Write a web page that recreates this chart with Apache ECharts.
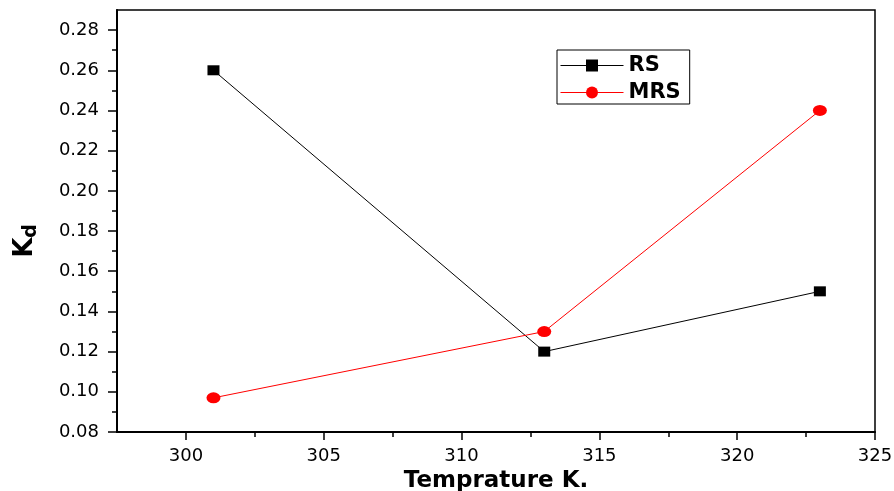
<!DOCTYPE html>
<html>
<head>
<meta charset="utf-8">
<script src="https://cdn.jsdelivr.net/npm/echarts@6/dist/echarts.min.js"></script>
<style>
  html, body { margin: 0; padding: 0; background: #fff; }
  #chart { width: 894px; height: 491px; }
</style>
</head>
<body>
<div id="chart"></div>
<script>
// data
const temps = [301, 313, 323]
const rsValues = [0.26, 0.12, 0.15]
const mrsValues = [0.097, 0.13, 0.24]

// tick labels
const xTicks = [300, 305, 310, 315, 320, 325]
const xMinorTicks = [302.5, 307.5, 312.5, 317.5, 322.5]
const yTicks = [0.08, 0.10, 0.12, 0.14, 0.16, 0.18, 0.20, 0.22, 0.24, 0.26, 0.28]
const yMinorTicks = [0.09, 0.11, 0.13, 0.15, 0.17, 0.19, 0.21, 0.23, 0.25, 0.27]

const font = 'DejaVu Sans, Verdana, sans-serif'
const chart = echarts.init(document.getElementById('chart'))

const xBase = { type: 'value', min: 297.5, max: 325, splitLine: { show: false } }
const yBase = { type: 'value', min: 0.08, max: 0.29, splitLine: { show: false } }

const option = {
  backgroundColor: '#fff',
  animation: false,
  grid: {
    left: 117, right: 19, top: 10, bottom: 59,
    outerBoundsMode: 'none',
    containLabel: false,
    show: true, borderColor: '#000', borderWidth: 1.5
  },
  legend: {
    orient: 'vertical',
    left: 557, top: 50,
    padding: [5, 9, 1, 3],
    borderColor: '#000', borderWidth: 1,
    itemWidth: 63, itemHeight: 15, itemGap: 6,
    lineStyle: { width: 1 },
    textStyle: { fontFamily: font, fontWeight: 'bold', fontSize: 21, color: '#000' },
    data: ['RS', 'MRS']
  },
  xAxis: [
    Object.assign({}, xBase, {
      position: 'bottom',
      name: 'Temprature K.',
      nameLocation: 'middle',
      nameGap: 28,
      nameTextStyle: { fontFamily: font, fontWeight: 'bold', fontSize: 23, color: '#000' },
      axisLine: { lineStyle: { color: '#000', width: 2 } },
      axisTick: { customValues: xTicks, length: 8, lineStyle: { color: '#000', width: 1.5 } },
      axisLabel: { customValues: xTicks, margin: 15, fontFamily: font, fontSize: 18, color: '#000' }
    }),
    Object.assign({}, xBase, {
      position: 'bottom',
      axisLine: { show: false },
      axisTick: { customValues: xMinorTicks, length: 5, lineStyle: { color: '#000', width: 1.5 } },
      axisLabel: { show: false }
    })
  ],
  yAxis: [
    Object.assign({}, yBase, {
      position: 'left',
      name: '{k|K}{d|d}',
      nameLocation: 'middle',
      nameGap: 76,
      nameRotate: 90,
      nameTextStyle: {
        padding: [0, 40, 0, 0],
        rich: {
          k: { fontFamily: font, fontWeight: 'bold', fontSize: 26, color: '#000', lineHeight: 30 },
          d: { fontFamily: font, fontWeight: 'bold', fontSize: 19, color: '#000', padding: [13, 0, 0, 0] }
        }
      },
      axisLine: { lineStyle: { color: '#000', width: 2 } },
      axisTick: { customValues: yTicks, length: 9, lineStyle: { color: '#000', width: 1.5 } },
      axisLabel: {
        customValues: yTicks, margin: 18, fontFamily: font, fontSize: 18, color: '#000',
        formatter: v => v.toFixed(2)
      }
    }),
    Object.assign({}, yBase, {
      position: 'left',
      axisLine: { show: false },
      axisTick: { customValues: yMinorTicks, length: 5, lineStyle: { color: '#000', width: 1.5 } },
      axisLabel: { show: false }
    })
  ],
  series: [
    {
      name: 'RS',
      type: 'line',
      data: temps.map((t, i) => [t, rsValues[i]]),
      symbol: 'rect',
      symbolSize: [12, 10],
      itemStyle: { color: '#000' },
      lineStyle: { color: '#000', width: 1 }
    },
    {
      name: 'MRS',
      type: 'line',
      data: temps.map((t, i) => [t, mrsValues[i]]),
      symbol: 'circle',
      symbolSize: [14, 11],
      itemStyle: { color: '#ff0000' },
      lineStyle: { color: '#ff0000', width: 1 }
    }
  ]
}

chart.setOption(option)
</script>
</body>
</html>
